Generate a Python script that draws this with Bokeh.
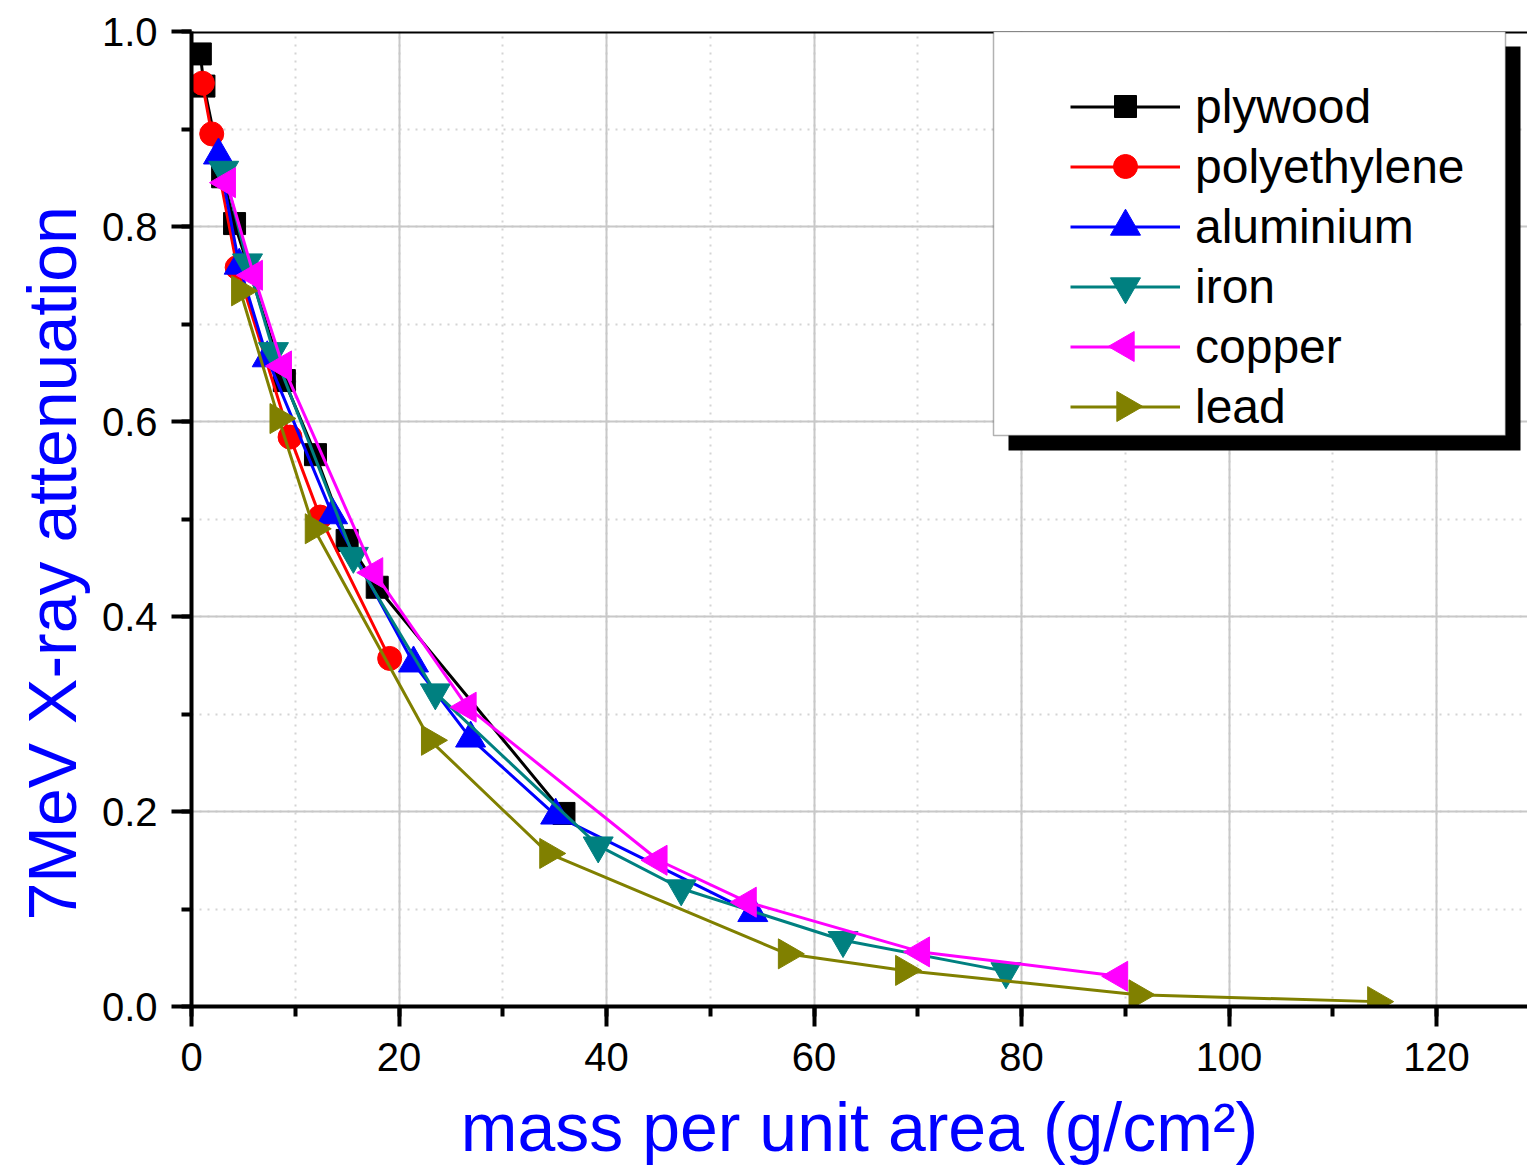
import math
from bokeh.plotting import figure
from bokeh.models import (Range1d, SingleIntervalTicker, PrintfTickFormatter, Span,
                          BoxAnnotation, Legend, LegendItem, Title)
from bokeh.embed import file_html
from bokeh.resources import INLINE

# ---------------- data ----------------
plywood_x = [0.85, 1.2, 3.0, 4.15, 8.95, 11.95, 15.0, 17.9, 35.9]
plywood_y = [0.977, 0.944, 0.851, 0.803, 0.642, 0.566, 0.478, 0.430, 0.198]

polyethylene_x = [1.05, 1.95, 4.4, 9.5, 12.4, 19.1]
polyethylene_y = [0.947, 0.895, 0.758, 0.584, 0.502, 0.357]

aluminium_x = [2.6, 4.6, 7.3, 13.6, 21.4, 26.9, 35.1, 54.1]
aluminium_y = [0.873, 0.760, 0.665, 0.504, 0.352, 0.275, 0.196, 0.096]

iron_x = [3.1, 5.4, 7.9, 15.6, 23.5, 39.2, 47.2, 62.8, 78.5]
iron_y = [0.858, 0.763, 0.672, 0.462, 0.322, 0.165, 0.121, 0.068, 0.036]

copper_x = [3.4, 6.0, 8.8, 17.6, 26.6, 45.0, 53.6, 70.3, 89.4]
copper_y = [0.845, 0.750, 0.657, 0.445, 0.307, 0.150, 0.107, 0.056, 0.031]

lead_x = [4.7, 8.4, 11.8, 23.0, 34.4, 57.4, 68.7, 91.2, 114.2]
lead_y = [0.734, 0.603, 0.490, 0.273, 0.157, 0.054, 0.037, 0.012, 0.005]

series_names = ["plywood", "polyethylene", "aluminium", "iron", "copper", "lead"]

x_label = "mass per unit area (g/cm\u00b2)"
y_label = "7MeV X-ray attenuation"

# ---------------- layout ----------------
FONT = "Liberation Sans"
W, H = 1527, 1171
LEFT, RIGHT, TOP, BOTTOM = 191, 0, 31, 165
FRAME_W = W - LEFT - RIGHT
FRAME_H = H - TOP - BOTTOM
XMAX = FRAME_W / 10.375
FL, FT = LEFT, TOP
FB = FT + FRAME_H


def X(px):
    return (px - FL) * XMAX / FRAME_W


def Y(py):
    return (FB - py) / FRAME_H


p = figure(width=W, height=H, output_backend="svg", toolbar_location=None,
           x_range=Range1d(0, XMAX), y_range=Range1d(0, 1.0),
           min_border_left=LEFT, min_border_right=RIGHT,
           min_border_top=TOP, min_border_bottom=BOTTOM)
p.outline_line_color = None
p.background_fill_color = "white"
p.border_fill_color = "white"

p.xaxis.ticker = SingleIntervalTicker(interval=20, num_minor_ticks=2)
p.yaxis.ticker = SingleIntervalTicker(interval=0.2, num_minor_ticks=2)
p.yaxis.formatter = PrintfTickFormatter(format="%.1f")

for ax in (p.xaxis[0], p.yaxis[0]):
    ax.axis_line_width = 4
    ax.axis_line_color = "black"
    ax.major_tick_out = 20
    ax.major_tick_in = 0
    ax.minor_tick_out = 10
    ax.minor_tick_in = 0
    ax.major_tick_line_width = 4
    ax.minor_tick_line_width = 4
    ax.major_tick_line_color = "black"
    ax.minor_tick_line_color = "black"
    ax.major_label_text_font = FONT
    ax.major_label_text_font_size = "40px"
    ax.major_label_text_color = "black"

p.xaxis.major_label_standoff = 16
p.yaxis.major_label_standoff = 14

p.xaxis.axis_label = x_label
p.xaxis.axis_label_text_font = FONT
p.xaxis.axis_label_text_font_size = "68px"
p.xaxis.axis_label_text_font_style = "normal"
p.xaxis.axis_label_text_color = "#0000FF"
p.xaxis.axis_label_standoff = 15

for g in (p.xgrid[0], p.ygrid[0]):
    g.grid_line_color = "#C8C8C8"
    g.grid_line_width = 2
    g.minor_grid_line_color = "#D4D4D4"
    g.minor_grid_line_width = 2
    g.minor_grid_line_dash = "2 6"

# y-axis title, placed outside the axis
p.add_layout(Title(text=y_label, align="left", offset=86, standoff=18,
                   text_font=FONT, text_font_size="68px", text_font_style="normal",
                   text_color="#0000FF"), "left")

# top border line
p.add_layout(Span(location=1.0, dimension="width", line_color="black", line_width=4))

# ---------------- series ----------------
styles = [
    ("black", "square", 22, 0.0),
    ("#FF0000", "circle", 24, 0.0),
    ("#0000FF", "triangle", 30, 0.0),
    ("#008080", "inverted_triangle", 30, 0.0),
    ("#FF00FF", "triangle", 30, math.pi / 2),
    ("#808000", "triangle", 30, -math.pi / 2),
]
data = [(plywood_x, plywood_y), (polyethylene_x, polyethylene_y),
        (aluminium_x, aluminium_y), (iron_x, iron_y),
        (copper_x, copper_y), (lead_x, lead_y)]

items = []
for name, (xs, ys), (col, mk, sz, ang) in zip(series_names, data, styles):
    r1 = p.line(xs, ys, line_color=col, line_width=3)
    p.scatter(xs, ys, marker=mk, size=sz, angle=ang,
              fill_color=col, line_color=col, line_width=1)
    items.append(LegendItem(label=name, renderers=[r1]))

# legend frame with shadow
p.add_layout(BoxAnnotation(left=X(1008), right=X(1520), top=Y(46), bottom=Y(450),
                           fill_color="black", fill_alpha=1.0, line_color=None))
p.add_layout(BoxAnnotation(left=X(993), right=X(1505), top=1.0, bottom=Y(435),
                           fill_color="white", fill_alpha=1.0,
                           line_color="black", line_width=1.5))

GH = 55
ROW0 = 106
legend = Legend(items=items, location=(1070 - FL, FB - (ROW0 - GH / 2 + 6 * GH + 5 * 5)),
                margin=0, padding=0, spacing=5,
                glyph_width=110, glyph_height=GH, label_height=GH,
                label_standoff=15,
                label_text_font=FONT, label_text_font_size="48px",
                label_text_color="black",
                border_line_color=None, background_fill_alpha=0.0)
p.add_layout(legend)

# legend symbols (drawn above the legend so triangles can point left / right)
for i, (col, mk, sz, ang) in enumerate(styles):
    p.scatter([X(1125)], [Y(ROW0 + 60 * i)], marker=mk, size=sz, angle=ang,
              fill_color=col, line_color=col, line_width=1, level="overlay")

open("out.html", "w").write(file_html(p, INLINE))
